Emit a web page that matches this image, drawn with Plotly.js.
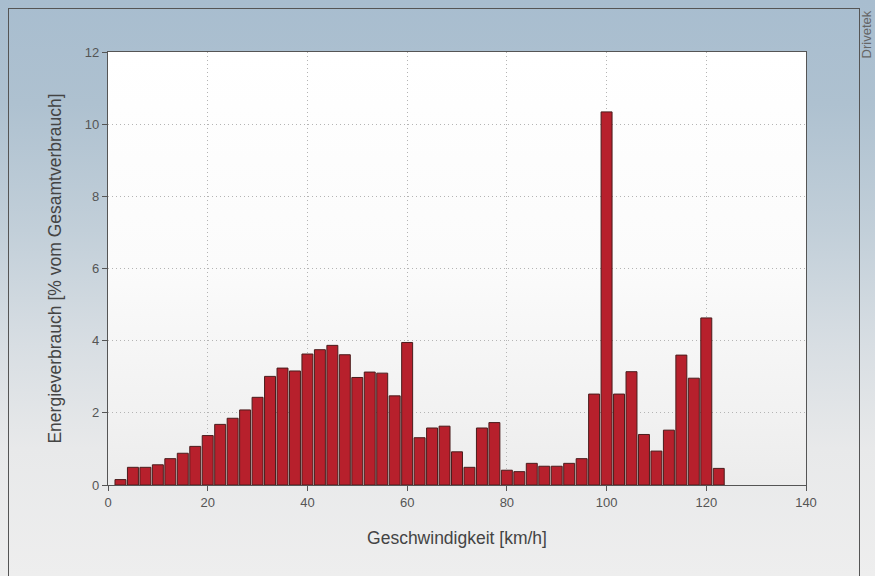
<!DOCTYPE html>
<html>
<head>
<meta charset="utf-8">
<script src="https://cdn.plot.ly/plotly-3.0.1.min.js"></script>
<style>
  html, body { margin: 0; padding: 0; }
  body {
    width: 875px; height: 576px; overflow: hidden; position: relative;
    background: linear-gradient(to bottom, #a8bdcf 0%, #aec1d0 18%, #c2cfd9 40%, #d8dee3 60%, #e8e9ea 78%, #eeeeee 100%);
  }
  #frame {
    position: absolute; left: 8px; top: 8px; width: 852px; height: 600px;
    border-left: 1.5px solid #555; border-top: 1.5px solid #555; border-right: 1.5px solid #555;
    box-sizing: border-box;
  }
  #plotbg {
    position: absolute; left: 108px; top: 52px; width: 698px; height: 433px;
    background: linear-gradient(to bottom, #ffffff 0%, #fbfbfb 50%, #f1f1f1 85%, #ececec 100%);
  }
  #chart { position: absolute; left: 0; top: 0; width: 875px; height: 576px; }
</style>
</head>
<body>
<div id="frame"></div>
<div id="plotbg"></div>
<div id="chart"></div>
<script>
// Speed bins [km/h]
const speeds = [2.5, 5, 7.5, 10, 12.5, 15, 17.5, 20, 22.5, 25, 27.5, 30, 32.5, 35, 37.5, 40,
  42.5, 45, 47.5, 50, 52.5, 55, 57.5, 60, 62.5, 65, 67.5, 70, 72.5, 75, 77.5, 80,
  82.5, 85, 87.5, 90, 92.5, 95, 97.5, 100, 102.5, 105, 107.5, 110, 112.5, 115, 117.5, 120, 122.5];
// Energy consumption [% of total]
const energyShare = [0.15, 0.49, 0.49, 0.56, 0.73, 0.88, 1.07, 1.37, 1.68, 1.85, 2.08, 2.43, 3.01, 3.24, 3.16, 3.63,
  3.75, 3.87, 3.61, 2.98, 3.13, 3.10, 2.47, 3.95, 1.31, 1.58, 1.63, 0.92, 0.49, 1.58, 1.73, 0.41,
  0.37, 0.60, 0.52, 0.52, 0.60, 0.73, 2.52, 10.34, 2.52, 3.14, 1.40, 0.94, 1.52, 3.60, 2.96, 4.63, 0.46];
const xTicks = [0, 20, 40, 60, 80, 100, 120, 140];
const yTicks = [0, 2, 4, 6, 8, 10, 12];

const trace = {
  type: 'bar',
  x: speeds,
  y: energyShare,
  width: 2.2,
  marker: { color: '#b7202c', line: { color: '#4a1c1c', width: 1 } },
  hoverinfo: 'x+y'
};

const fam = 'Liberation Sans, Arial, sans-serif';
const axisFont = { family: fam, size: 13, color: '#555' };
const titleFont = { family: fam, size: 17.5, color: '#444' };

const layout = {
  width: 875, height: 576,
  margin: { l: 108, r: 69, t: 52, b: 91 },
  paper_bgcolor: 'rgba(0,0,0,0)',
  plot_bgcolor: 'rgba(0,0,0,0)',
  showlegend: false,
  font: axisFont,
  xaxis: {
    range: [0, 140], tickvals: xTicks, ticktext: xTicks.map(String),
    ticks: 'outside', ticklen: 5, tickcolor: '#555', tickwidth: 1,
    showline: true, linecolor: '#555', linewidth: 1.2, mirror: true,
    showgrid: true, gridcolor: '#b4b4b4', griddash: '1px,3px', gridwidth: 1.2,
    zeroline: false, tickfont: axisFont,
    title: { text: 'Geschwindigkeit [km/h]', font: titleFont, standoff: 23 }
  },
  yaxis: {
    range: [0, 12], tickvals: yTicks, ticktext: yTicks.map(String),
    ticks: 'outside', ticklen: 5, tickcolor: '#555', tickwidth: 1,
    showline: true, linecolor: '#555', linewidth: 1.2, mirror: true,
    showgrid: true, gridcolor: '#b4b4b4', griddash: '1px,3px', gridwidth: 1.2,
    zeroline: false, tickfont: axisFont,
    title: { text: 'Energieverbrauch [% vom Gesamtverbrauch]', font: titleFont, standoff: 18 }
  },
  annotations: [{
    text: 'Drivetek', xref: 'paper', yref: 'paper',
    x: 1.087, y: 1.1, xanchor: 'center', yanchor: 'top',
    textangle: -90, showarrow: false,
    font: { family: fam, size: 13, color: '#666' }
  }]
};

Plotly.newPlot('chart', [trace], layout, { displayModeBar: false, staticPlot: true });
</script>
</body>
</html>
